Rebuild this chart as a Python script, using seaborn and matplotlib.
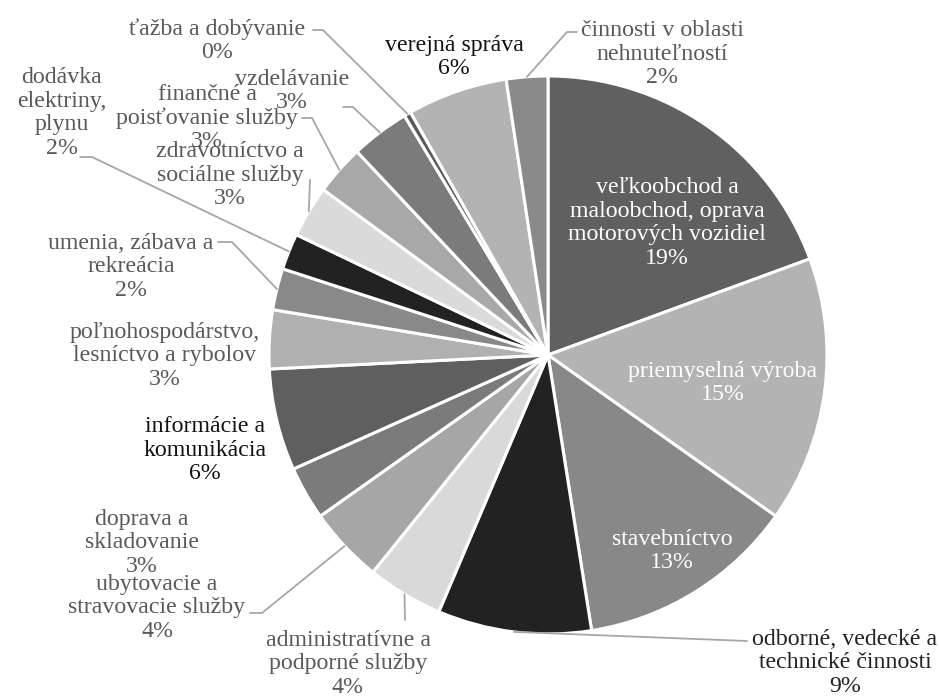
import matplotlib
matplotlib.use("Agg")
import matplotlib.pyplot as plt
import numpy as np
import seaborn as sns

# Shares of employment by sector (percent), drawn clockwise from 12 o'clock
categories = [
    "veľkoobchod a\nmaloobchod, oprava\nmotorových vozidiel",
    "priemyselná výroba",
    "stavebníctvo",
    "odborné, vedecké a\ntechnické činnosti",
    "administratívne a\npodporné služby",
    "ubytovacie a\nstravovacie služby",
    "doprava a\nskladovanie",
    "informácie a\nkomunikácia",
    "poľnohospodárstvo,\nlesníctvo a rybolov",
    "umenia, zábava a\nrekreácia",
    "dodávka\nelektriny,\nplynu",
    "zdravotníctvo a\nsociálne služby",
    "finančné a\npoisťovanie služby",
    "vzdelávanie",
    "ťažba a dobývanie",
    "verejná správa",
    "činnosti v oblasti\nnehnuteľností",
]
shares = [19.4, 15.4, 12.7, 8.9, 4.4, 4.4, 3.1, 5.9, 3.4, 2.4, 2.1, 3.0, 2.9, 3.4, 0.4, 5.8, 2.4]

slice_colors = [
    "#606060", "#b3b3b3", "#888888", "#222222", "#d9d9d9", "#a6a6a6",
    "#7b7b7b", "#5f5f5f", "#b0b0b0", "#898989", "#222222", "#dadada",
    "#a8a8a8", "#7b7b7b", "#5a5a5a", "#b3b3b3", "#8a8a8a",
]

# Label layout in pixel space of a 939x700 canvas: centre of the text block,
# text colour, and the leader path from the text towards the slice (or None)
W, H = 939, 700
CX, CY, R = 548, 355, 279
GRAY_TXT = "#595959"
label_layout = [
    ((667, 223), "white", None),
    ((723, 383), "white", None),
    ((672, 551), "white", None),
    ((845, 663), "#222222", [(747, 641)]),
    ((348, 664), GRAY_TXT, [(405, 620)]),
    ((157, 608), GRAY_TXT, [(250, 613), (262, 613)]),
    ((142, 543), GRAY_TXT, None),
    ((205, 450), "#111111", None),
    ((165, 356), GRAY_TXT, None),
    ((131, 267), GRAY_TXT, [(218, 242), (232, 242)]),
    ((62, 113), GRAY_TXT, [(80, 157), (92, 157)]),
    ((230, 175), GRAY_TXT, [(310, 180)]),
    ((207, 118), GRAY_TXT, [(302, 118), (312, 118)]),
    ((292, 91), GRAY_TXT, [(343, 107), (353, 107)]),
    ((217, 41), GRAY_TXT, [(313, 30), (323, 30)]),
    ((454, 57), "#111111", None),
    ((662, 54), GRAY_TXT, [(577, 32), (567, 32)]),
]


def to_data(p):
    return ((p[0] - CX) / R, (CY - p[1]) / R)


sns.set_theme(style="white")
plt.rcParams["font.family"] = ["Liberation Serif", "DejaVu Serif"]

fig = plt.figure(figsize=(W / 100, H / 100), dpi=100)
ax = fig.add_axes([(CX - R) / W, (H - CY - R) / H, 2 * R / W, 2 * R / H])

wedges, _ = ax.pie(
    shares,
    colors=slice_colors,
    startangle=90,
    counterclock=False,
    radius=1.0,
    wedgeprops=dict(edgecolor="white", linewidth=2.2),
)
ax.set_xlim(-1, 1)
ax.set_ylim(-1, 1)
ax.set_axis_off()

for wedge, name, val, (pos, color, leader) in zip(wedges, categories, shares, label_layout):
    x, y = to_data(pos)
    ax.text(x, y, f"{name}\n{val:.0f}%", ha="center", va="center",
            multialignment="center", color=color, fontsize=17.2,
            family=["Liberation Serif", "DejaVu Serif"],
            linespacing=1.15, clip_on=False, zorder=5)
    if leader:
        mid = np.deg2rad((wedge.theta1 + wedge.theta2) / 2)
        edge = (np.cos(mid) * 1.0, np.sin(mid) * 1.0)
        pts = [to_data(p) for p in leader] + [edge]
        xs, ys = zip(*pts)
        ax.plot(xs, ys, color="#a6a6a6", lw=1.3, clip_on=False, zorder=4)

fig.savefig("out.png", dpi=100, facecolor="white")
